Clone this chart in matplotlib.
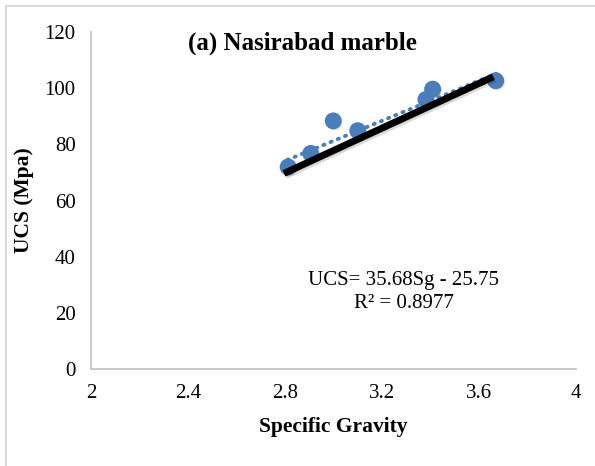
import matplotlib.pyplot as plt
import matplotlib.patheffects as pe
import numpy as np
from matplotlib.patches import Rectangle

# Specific gravity vs UCS
sg = [2.813, 2.906, 2.999, 3.100, 3.381, 3.409, 3.669]
ucs = [72.0, 76.8, 88.4, 84.9, 96.0, 99.7, 102.7]

# Excel linear trendline shown in the chart label
slope = 35.68
intercept = -25.75
r2 = 0.8977
trend_x = [2.81, 3.67]

# thick black line drawn over the points
black_x = [2.796, 3.659]
black_y = [69.7, 104.1]

x_ticks = [2, 2.4, 2.8, 3.2, 3.6, 4]
y_ticks = [0, 20, 40, 60, 80, 100, 120]

plt.rcParams['font.family'] = ['Liberation Serif', 'DejaVu Serif']

fig = plt.figure(figsize=(5.95, 4.66), dpi=100)
ax = fig.add_axes([0.153, 0.208, 0.815, 0.723])

# light chart-area border (cut at right/bottom like the reference)
fig.patches.append(Rectangle((6 / 595, -0.05), 1.2, 1 - 6 / 466 + 0.05,
                             transform=fig.transFigure, fill=False,
                             edgecolor='#D9D9D9', linewidth=1.5))

blue = '#4A7EBB'
shadow = [pe.SimplePatchShadow(offset=(1, -1), alpha=0.15), pe.Normal()]
ax.scatter(sg, ucs, s=125, color=blue, zorder=3, path_effects=shadow)

tx = np.array(trend_x)
ax.plot(tx, slope * tx + intercept, color=blue, linestyle=(0, (0.3, 1.7)),
        linewidth=2.8, dash_capstyle='round', zorder=4)

ax.plot(black_x, black_y, color='black', linewidth=5, solid_capstyle='butt', zorder=5,
        path_effects=[pe.SimpleLineShadow(offset=(1.2, -1.5), alpha=0.15), pe.Normal()])

ax.set_xlim(2, 4)
ax.set_ylim(0, 120)
ax.set_xticks(x_ticks)
ax.set_xticklabels([f'{v:g}' for v in x_ticks])
ax.set_yticks(y_ticks)
ax.tick_params(length=0, labelsize=15, pad=11)

for side in ['top', 'right']:
    ax.spines[side].set_visible(False)
for side in ['left', 'bottom']:
    ax.spines[side].set_color('#BFBFBF')
    ax.spines[side].set_linewidth(1.2)

ax.set_xlabel('Specific Gravity', fontsize=15.5, fontweight='bold', labelpad=10)
ax.set_ylabel('UCS (Mpa)', fontsize=15.5, fontweight='bold', labelpad=8)

ax.text(2.87, 116, '(a) Nasirabad marble', fontsize=18, fontweight='bold',
        ha='center', va='center')
ax.text(3.29, 31.7, f'UCS= {slope:.2f}Sg - {abs(intercept):.2f}', fontsize=15,
        ha='center', va='center')
ax.text(3.29, 23.3, f'R² = {r2:.4f}', fontsize=15, ha='center', va='center')

fig.savefig('out.png', dpi=100)
